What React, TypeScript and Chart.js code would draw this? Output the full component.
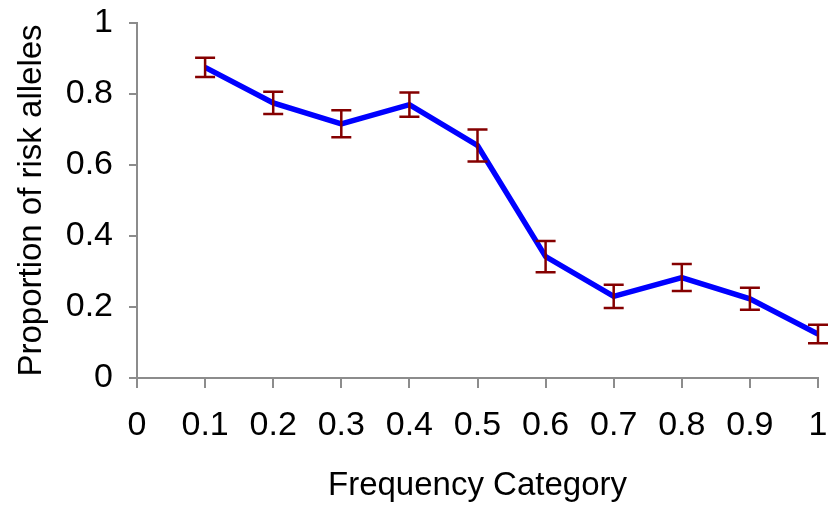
import React, { useEffect, useRef } from "react";
import { Chart, registerables } from "chart.js";

Chart.register(...registerables);

const categories = [0.1, 0.2, 0.3, 0.4, 0.5, 0.6, 0.7, 0.8, 0.9, 1.0];
const proportions = [0.875, 0.775, 0.716, 0.77, 0.655, 0.342, 0.23, 0.283, 0.223, 0.124];
const errors = [0.027, 0.031, 0.038, 0.034, 0.045, 0.044, 0.033, 0.038, 0.031, 0.026];

const xTickValues = [0, 0.1, 0.2, 0.3, 0.4, 0.5, 0.6, 0.7, 0.8, 0.9, 1];
const xTickLabels = ["0", "0.1", "0.2", "0.3", "0.4", "0.5", "0.6", "0.7", "0.8", "0.9", "1"];
const yTickValues = [0, 0.2, 0.4, 0.6, 0.8, 1];
const yTickLabels = ["0", "0.2", "0.4", "0.6", "0.8", "1"];

const xTitle = "Frequency Category";
const yTitle = "Proportion of risk alleles";

const FONT = "'Liberation Sans', Arial, sans-serif";
const AXIS_GRAY = "#8c8c8c";

const errorBarPlugin = {
  id: "errorBars",
  afterDatasetsDraw(chart: any) {
    const { ctx, scales } = chart;
    const xs = scales.x;
    const ys = scales.y;
    ctx.save();
    ctx.strokeStyle = "#850000";
    ctx.lineWidth = 2.5;
    const cap = 10;
    categories.forEach((c, i) => {
      const x = xs.getPixelForValue(c);
      const yt = ys.getPixelForValue(proportions[i] + errors[i]);
      const yb = ys.getPixelForValue(proportions[i] - errors[i]);
      ctx.beginPath();
      ctx.moveTo(x, yt);
      ctx.lineTo(x, yb);
      ctx.moveTo(x - cap, yt);
      ctx.lineTo(x + cap, yt);
      ctx.moveTo(x - cap, yb);
      ctx.lineTo(x + cap, yb);
      ctx.stroke();
    });
    ctx.restore();
  },
};

export default function App() {
  const ref = useRef<HTMLCanvasElement | null>(null);

  useEffect(() => {
    if (!ref.current) return;
    const chart = new Chart(ref.current, {
      type: "line",
      data: {
        datasets: [
          {
            data: categories.map((c, i) => ({ x: c, y: proportions[i] })),
            borderColor: "#0000ff",
            borderWidth: 5.5,
            pointRadius: 0,
            fill: false,
            tension: 0,
          },
        ],
      },
      plugins: [errorBarPlugin],
      options: {
        animation: false,
        responsive: false,
        layout: { padding: { top: 23, right: 11, left: 0, bottom: 0 } },
        plugins: { legend: { display: false }, tooltip: { enabled: false } },
        scales: {
          x: {
            type: "linear",
            min: 0,
            max: 1,
            afterBuildTicks: (axis: any) => {
              axis.ticks = xTickValues.map((v) => ({ value: v }));
            },
            afterFit: (axis: any) => {
              axis.height = 128;
              axis.paddingLeft = 0;
              axis.paddingRight = 0;
            },
            ticks: {
              callback: (_v: any, i: number) => xTickLabels[i],
              color: "#000",
              font: { family: FONT, size: 34 },
              padding: 17,
              maxRotation: 0,
              autoSkip: false,
            },
            grid: {
              drawOnChartArea: false,
              drawTicks: true,
              tickLength: 10,
              color: AXIS_GRAY,
              lineWidth: 2,
            },
            border: { display: true, color: AXIS_GRAY, width: 2 },
            title: {
              display: true,
              text: xTitle,
              color: "#000",
              font: { family: FONT, size: 33 },
              padding: { top: 0, bottom: 0 },
            },
          },
          y: {
            type: "linear",
            min: 0,
            max: 1,
            afterBuildTicks: (axis: any) => {
              axis.ticks = yTickValues.map((v) => ({ value: v }));
            },
            afterFit: (axis: any) => {
              axis.width = 137;
              axis.paddingTop = 0;
              axis.paddingBottom = 0;
            },
            ticks: {
              callback: (_v: any, i: number) => yTickLabels[i],
              color: "#000",
              font: { family: FONT, size: 34 },
              padding: 16,
            },
            grid: {
              drawOnChartArea: false,
              drawTicks: true,
              tickLength: 8,
              color: AXIS_GRAY,
              lineWidth: 2,
            },
            border: { display: true, color: AXIS_GRAY, width: 2 },
            title: {
              display: true,
              text: yTitle,
              color: "#000",
              font: { family: FONT, size: 33 },
              padding: { top: 12, bottom: 0 },
            },
          },
        },
      },
    } as any);
    return () => chart.destroy();
  }, []);

  return (
    <div style={{ position: "fixed", left: 0, top: 0, width: 829, height: 506, background: "#fff" }}>
      <canvas ref={ref} width={829} height={506} style={{ display: "block", width: 829, height: 506 }} />
    </div>
  );
}
